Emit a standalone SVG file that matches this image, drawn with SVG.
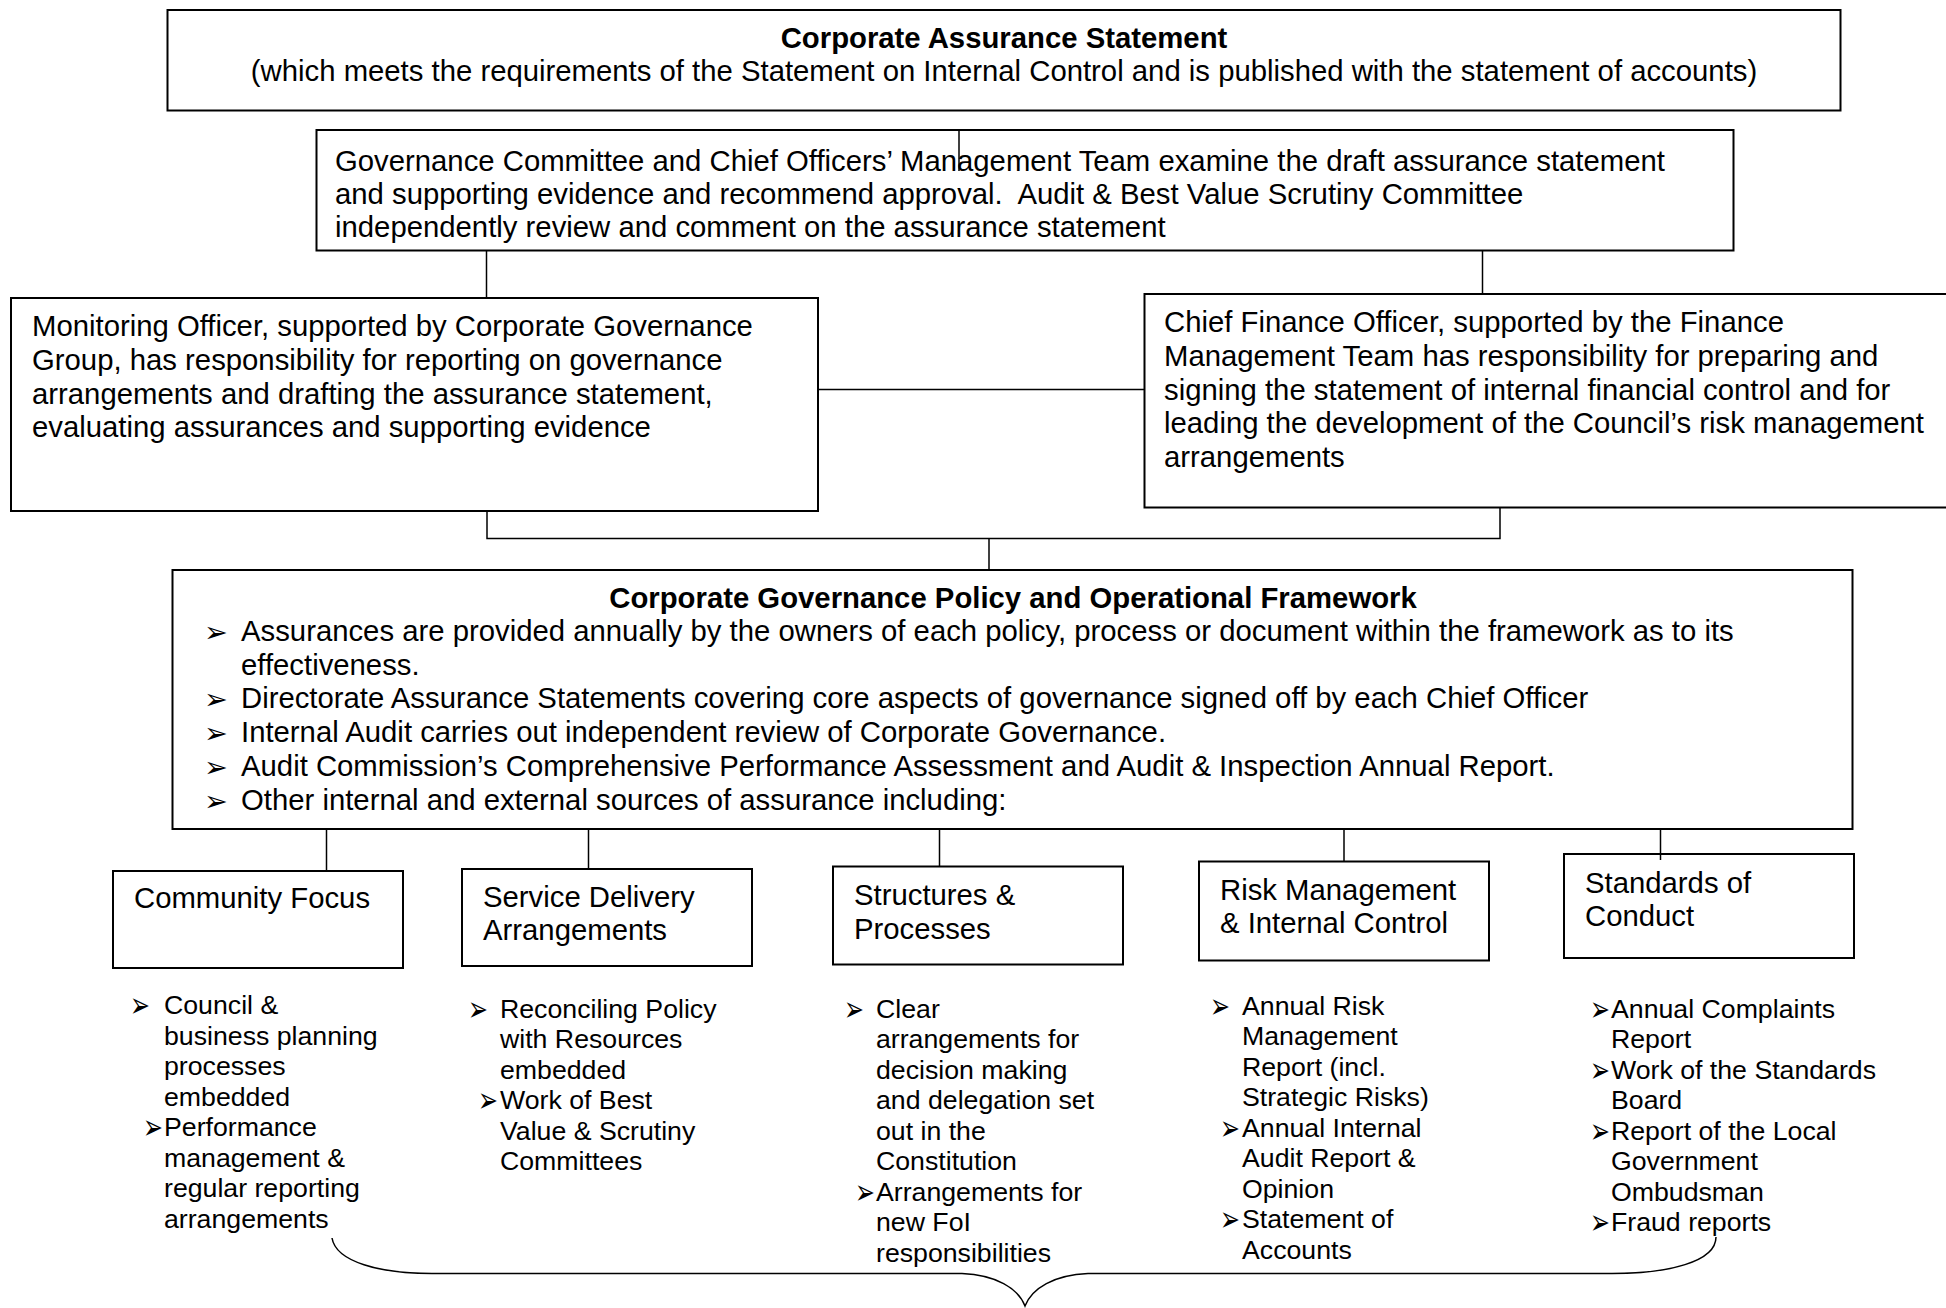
<svg xmlns="http://www.w3.org/2000/svg" width="1946" height="1308" viewBox="0 0 1946 1308">
  <style>
    .box { fill: #fff; stroke: #000; stroke-width: 2; }
    .conn { fill: none; stroke: #000; stroke-width: 1.5; }
    .t { font-family: "Liberation Sans", Arial, sans-serif; font-size: 29.3px; fill: #000; }
    .b { font-weight: bold; }
    .c { text-anchor: middle; }
    .s { font-size: 26.7px; }
    .arw { font-family: "DejaVu Sans", sans-serif; font-size: 27px; fill: #000; }
    .arwb { font-family: "DejaVu Sans", sans-serif; font-size: 28.5px; fill: #000; }
  </style>
  <rect width="1946" height="1308" fill="#fff"/>

  <g id="corporate-assurance-statement">
    <rect class="box" x="167.5" y="10" width="1673" height="100.5"/>
    <text class="t b c" x="1004" y="48">Corporate Assurance Statement</text>
    <text class="t c" x="1004" y="81">(which meets the requirements of the Statement on Internal Control and is published with the statement of accounts)</text>
  </g>

  <g id="governance-committee">
    <rect class="box" x="316.5" y="130" width="1417" height="120.5"/>
    <text class="t" x="335" y="170.5">Governance Committee and Chief Officers’ Management Team examine the draft assurance statement</text>
    <text class="t" x="335" y="203.5" xml:space="preserve">and supporting evidence and recommend approval.  Audit &amp; Best Value Scrutiny Committee</text>
    <text class="t" x="335" y="236.5">independently review and comment on the assurance statement</text>
  </g>

  <g id="monitoring-officer">
    <rect class="box" x="11" y="298" width="807" height="213"/>
    <text class="t" x="32" y="336">Monitoring Officer, supported by Corporate Governance</text>
    <text class="t" x="32" y="370">Group, has responsibility for reporting on governance</text>
    <text class="t" x="32" y="403.5">arrangements and drafting the assurance statement,</text>
    <text class="t" x="32" y="437">evaluating assurances and supporting evidence</text>
  </g>

  <g id="chief-finance-officer">
    <rect class="box" x="1144.5" y="294" width="820" height="213.5"/>
    <text class="t" x="1164" y="332">Chief Finance Officer, supported by the Finance</text>
    <text class="t" x="1164" y="366">Management Team has responsibility for preparing and</text>
    <text class="t" x="1164" y="399.5">signing the statement of internal financial control and for</text>
    <text class="t" x="1164" y="433">leading the development of the Council’s risk management</text>
    <text class="t" x="1164" y="466.5">arrangements</text>
  </g>

  <g id="governance-framework">
    <rect class="box" x="172.5" y="570" width="1680" height="259"/>
    <text class="t b c" x="1013" y="608">Corporate Governance Policy and Operational Framework</text>
    <text class="arwb" x="204" y="642">➢</text>
    <text class="t" x="241" y="641">Assurances are provided annually by the owners of each policy, process or document within the framework as to its</text>
    <text class="t" x="241" y="674.5">effectiveness.</text>
    <text class="arwb" x="204" y="709">➢</text>
    <text class="t" x="241" y="708">Directorate Assurance Statements covering core aspects of governance signed off by each Chief Officer</text>
    <text class="arwb" x="204" y="742.5">➢</text>
    <text class="t" x="241" y="741.5">Internal Audit carries out independent review of Corporate Governance.</text>
    <text class="arwb" x="204" y="777">➢</text>
    <text class="t" x="241" y="776">Audit Commission’s Comprehensive Performance Assessment and Audit &amp; Inspection Annual Report.</text>
    <text class="arwb" x="204" y="810.5">➢</text>
    <text class="t" x="241" y="809.5">Other internal and external sources of assurance including:</text>
  </g>

  <g id="community-focus">
    <rect class="box" x="113" y="871" width="290" height="97"/>
    <text class="t" x="134" y="908">Community Focus</text>
    <text class="arw" transform="translate(130 1017.3) scale(0.88 1.3)">➢</text>
    <text class="t s" x="164" y="1014">Council &amp;</text>
    <text class="t s" x="164" y="1044.5">business planning</text>
    <text class="t s" x="164" y="1075">processes</text>
    <text class="t s" x="164" y="1105.5">embedded</text>
    <text class="arw" transform="translate(143 1139.3) scale(0.88 1.3)">➢</text>
    <text class="t s" x="164" y="1136">Performance</text>
    <text class="t s" x="164" y="1166.5">management &amp;</text>
    <text class="t s" x="164" y="1197">regular reporting</text>
    <text class="t s" x="164" y="1227.5">arrangements</text>
  </g>

  <g id="service-delivery">
    <rect class="box" x="462" y="869" width="290" height="97"/>
    <text class="t" x="483" y="907">Service Delivery</text>
    <text class="t" x="483" y="940">Arrangements</text>
    <text class="arw" transform="translate(468 1020.8) scale(0.88 1.3)">➢</text>
    <text class="t s" x="500" y="1017.5">Reconciling Policy</text>
    <text class="t s" x="500" y="1048">with Resources</text>
    <text class="t s" x="500" y="1078.5">embedded</text>
    <text class="arw" transform="translate(478 1112.3) scale(0.88 1.3)">➢</text>
    <text class="t s" x="500" y="1109">Work of Best</text>
    <text class="t s" x="500" y="1139.5">Value &amp; Scrutiny</text>
    <text class="t s" x="500" y="1170">Committees</text>
  </g>

  <g id="structures-processes">
    <rect class="box" x="833" y="866.5" width="290" height="98"/>
    <text class="t" x="854" y="905">Structures &amp;</text>
    <text class="t" x="854" y="938.5">Processes</text>
    <text class="arw" transform="translate(844 1020.8) scale(0.88 1.3)">➢</text>
    <text class="t s" x="876" y="1017.5">Clear</text>
    <text class="t s" x="876" y="1048">arrangements for</text>
    <text class="t s" x="876" y="1078.5">decision making</text>
    <text class="t s" x="876" y="1109">and delegation set</text>
    <text class="t s" x="876" y="1139.5">out in the</text>
    <text class="t s" x="876" y="1170">Constitution</text>
    <text class="arw" transform="translate(855 1203.8) scale(0.88 1.3)">➢</text>
    <text class="t s" x="876" y="1200.5">Arrangements for</text>
    <text class="t s" x="876" y="1231">new FoI</text>
    <text class="t s" x="876" y="1261.5">responsibilities</text>
  </g>

  <g id="risk-management">
    <rect class="box" x="1199" y="861.5" width="290" height="99"/>
    <text class="t" x="1220" y="900">Risk Management</text>
    <text class="t" x="1220" y="933">&amp; Internal Control</text>
    <text class="arw" transform="translate(1210 1017.8) scale(0.88 1.3)">➢</text>
    <text class="t s" x="1242" y="1014.5">Annual Risk</text>
    <text class="t s" x="1242" y="1045">Management</text>
    <text class="t s" x="1242" y="1075.5">Report (incl.</text>
    <text class="t s" x="1242" y="1106">Strategic Risks)</text>
    <text class="arw" transform="translate(1220 1139.8) scale(0.88 1.3)">➢</text>
    <text class="t s" x="1242" y="1136.5">Annual Internal</text>
    <text class="t s" x="1242" y="1167">Audit Report &amp;</text>
    <text class="t s" x="1242" y="1197.5">Opinion</text>
    <text class="arw" transform="translate(1220 1231.3) scale(0.88 1.3)">➢</text>
    <text class="t s" x="1242" y="1228">Statement of</text>
    <text class="t s" x="1242" y="1258.5">Accounts</text>
  </g>

  <g id="standards-of-conduct">
    <rect class="box" x="1564" y="854" width="290" height="104"/>
    <text class="t" x="1585" y="893">Standards of</text>
    <text class="t" x="1585" y="926">Conduct</text>
    <text class="arw" transform="translate(1590 1020.8) scale(0.88 1.3)">➢</text>
    <text class="t s" x="1611" y="1017.5">Annual Complaints</text>
    <text class="t s" x="1611" y="1048">Report</text>
    <text class="arw" transform="translate(1590 1081.8) scale(0.88 1.3)">➢</text>
    <text class="t s" x="1611" y="1078.5">Work of the Standards</text>
    <text class="t s" x="1611" y="1109">Board</text>
    <text class="arw" transform="translate(1590 1142.8) scale(0.88 1.3)">➢</text>
    <text class="t s" x="1611" y="1139.5">Report of the Local</text>
    <text class="t s" x="1611" y="1170">Government</text>
    <text class="t s" x="1611" y="1200.5">Ombudsman</text>
    <text class="arw" transform="translate(1590 1234.3) scale(0.88 1.3)">➢</text>
    <text class="t s" x="1611" y="1231">Fraud reports</text>
  </g>

  <g id="connectors">
    <!-- statement to governance committee -->
    <path class="conn" d="M959 130 V171"/>
    <!-- governance committee down to the two officers -->
    <path class="conn" d="M486.5 250.5 V298"/>
    <path class="conn" d="M1482.5 250.5 V294"/>
    <!-- link between the two officers -->
    <path class="conn" d="M818 389.5 H1144.5"/>
    <!-- officers joined to the framework -->
    <path class="conn" d="M487 511 V538.5 H1500 V507.5"/>
    <path class="conn" d="M989 538.5 V570"/>
    <!-- framework to the five assurance areas -->
    <path class="conn" d="M326.5 829 V871"/>
    <path class="conn" d="M588.5 829 V869"/>
    <path class="conn" d="M939.5 829 V866.5"/>
    <path class="conn" d="M1344 829 V861.5"/>
    <path class="conn" d="M1660.5 829 V860"/>
    <!-- brace gathering all sources -->
    <path class="conn" stroke-width="2" d="M332 1238 C336 1262 380 1273.5 432 1273.5 L962 1273.5 C996 1275 1018 1288 1025 1306 C1032 1288 1054 1275 1088 1273.5 L1612 1273.5 C1668 1273.5 1716 1262 1716 1237"/>
  </g>
</svg>
